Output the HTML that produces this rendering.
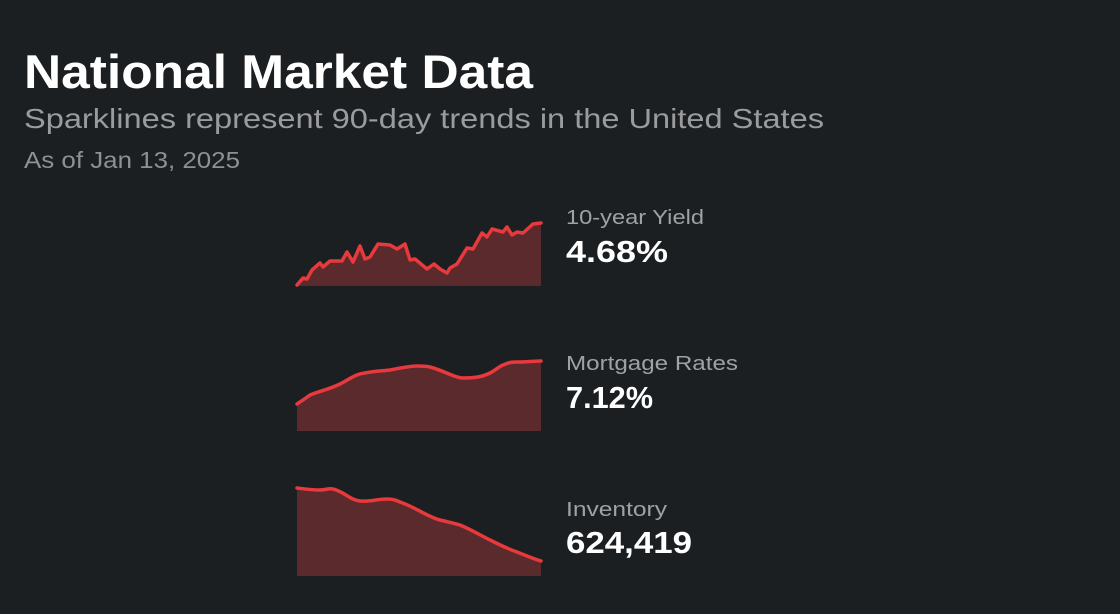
<!DOCTYPE html>
<html><head><style>
html,body{margin:0;padding:0;background:#1b1f22;}
svg{display:block}
</style></head><body>
<svg width="1120" height="614" xmlns="http://www.w3.org/2000/svg" font-family="Liberation Sans, sans-serif">
<rect width="1120" height="614" fill="#1b1f22"/>
<text x="24" y="88" font-size="47" font-weight="bold" fill="#ffffff" textLength="509" lengthAdjust="spacingAndGlyphs">National Market Data</text>
<text x="24" y="128" font-size="28" fill="#9a9b9c" textLength="800" lengthAdjust="spacingAndGlyphs">Sparklines represent 90-day trends in the United States</text>
<text x="24" y="168" font-size="23" fill="#8f9091" textLength="216" lengthAdjust="spacingAndGlyphs">As of Jan 13, 2025</text>

<g fill="#5a2a2d" stroke="none">
<path d="M297,285 L303,278 307,279 312,270 320,263 323,267 330,261 342,261 347,252 353,262 360,246 365,259 370,257 378,244 390,245 397,249 405,244 410,260 415,259 427,269 434,264 440,269 447,273 450,268 457,264 467,248 473,249 482,233 487,237 492,229 503,232 507,227 512,235 517,232 523,233 533,224 541,223 L541,286 L297,286Z"/>
<path d="M297,404 L310,395 340,384 365,373 390,370 417,366 430,367 463,378 490,373 503,365 517,362 541,361 L541,431 L297,431Z"/>
<path d="M297,488 L320,490 333,489 360,501 387,499 400,502 440,520 460,525 490,540 517,552 541,561 L541,576 L297,576Z"/>
</g>
<g fill="none" stroke="#e8393c" stroke-width="3.5" stroke-linejoin="round" stroke-linecap="round">
<path d="M297,285 L303,278 307,279 312,270 320,263 323,267 330,261 342,261 347,252 353,262 360,246 365,259 370,257 378,244 390,245 397,249 405,244 410,260 415,259 427,269 434,264 440,269 447,273 450,268 457,264 467,248 473,249 482,233 487,237 492,229 503,232 507,227 512,235 517,232 523,233 533,224 541,223"/>
<path d="M297,404 C303,400 306,398 310,395 C320,391 330,389 340,384 C350,379 355,374 365,373 C375,371 382,371 390,370 C400,368 410,366 417,366 C423,366 426,366 430,367 C445,371 455,378 463,378 C475,378 482,377 490,373 C496,370 498,367 503,365 C510,362 512,362 517,362 C528,362 535,361 541,361"/>
<path d="M297,488 C305,489 312,490 320,490 C326,490 328,488 333,489 C345,492 350,500 360,501 C370,502 377,499 387,499 C393,499 396,500 400,502 C415,507 428,517 440,520 C448,522 453,523 460,525 C472,530 480,535 490,540 C500,545 508,549 517,552 C527,556 534,559 541,561"/>
</g>

<text x="566" y="224" font-size="20" fill="#a0a1a2" textLength="138" lengthAdjust="spacingAndGlyphs">10-year Yield</text>
<text x="566" y="262" font-size="31" font-weight="bold" fill="#ffffff" textLength="102" lengthAdjust="spacingAndGlyphs">4.68%</text>
<text x="566" y="370" font-size="20" fill="#a0a1a2" textLength="172" lengthAdjust="spacingAndGlyphs">Mortgage Rates</text>
<text x="566" y="408" font-size="31" font-weight="bold" fill="#ffffff" textLength="87" lengthAdjust="spacingAndGlyphs">7.12%</text>
<text x="566" y="516" font-size="20" fill="#a0a1a2" textLength="101" lengthAdjust="spacingAndGlyphs">Inventory</text>
<text x="566" y="553" font-size="31" font-weight="bold" fill="#ffffff" textLength="126" lengthAdjust="spacingAndGlyphs">624,419</text>
</svg>
</body></html>
